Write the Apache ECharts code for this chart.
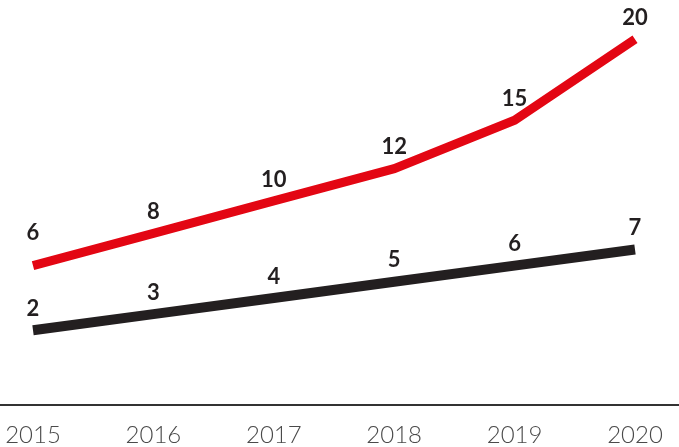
<!DOCTYPE html>
<html>
<head>
<meta charset="utf-8">
<script src="https://cdn.jsdelivr.net/npm/echarts@6/dist/echarts.min.js"></script>
<style>
  html, body { margin: 0; padding: 0; background: #fff; }
  #chart { width: 679px; height: 447px; }
</style>
</head>
<body>
<div id="chart"></div>
<script>
// Years along the bottom axis
const years = ['2015', '2016', '2017', '2018', '2019', '2020'];
// Upper (red) series
const redValues = [6, 8, 10, 12, 15, 20];
// Lower (dark) series
const darkValues = [2, 3, 4, 5, 6, 7];

const chart = echarts.init(document.getElementById('chart'));

const valueLabel = {
  show: true,
  position: 'top',
  distance: 10,
  fontFamily: 'Lato, "Open Sans", sans-serif',
  fontWeight: 'bold',
  fontSize: 22,
  color: '#231f20'
};

// the first red label sits a little higher than the rest
const redData = redValues.map((v, i) =>
  i === 0 ? { value: v, label: { distance: 21 } } : v
);

chart.setOption({
  animation: false,
  backgroundColor: '#ffffff',
  grid: [
    { left: 33, right: 44, top: 7, bottom: 42 },
    // full-width band that carries the baseline rule
    { left: 0, right: 0, top: 7, bottom: 42 }
  ],
  xAxis: [
    {
      type: 'category',
      data: years,
      boundaryGap: false,
      gridIndex: 0,
      axisLine: { show: false },
      axisTick: { show: false },
      axisLabel: {
        margin: 20,
        fontFamily: 'Lato, "Open Sans", sans-serif',
        fontWeight: 300,
        fontSize: 24,
        color: '#4a4a4a'
      },
      splitLine: { show: false }
    },
    {
      type: 'value',
      gridIndex: 1,
      axisLine: { show: true, lineStyle: { color: '#333333', width: 2 } },
      axisTick: { show: false },
      axisLabel: { show: false },
      splitLine: { show: false }
    }
  ],
  yAxis: [
    { type: 'value', gridIndex: 0, min: -2.5, max: 22, show: false },
    { type: 'value', gridIndex: 1, show: false }
  ],
  series: [
    {
      name: 'red',
      type: 'line',
      data: redData,
      symbol: 'circle',
      symbolSize: 1,
      itemStyle: { color: 'rgba(0,0,0,0)', borderWidth: 0 },
      lineStyle: { color: '#e30613', width: 9, cap: 'butt', join: 'miter' },
      label: valueLabel,
      z: 3
    },
    {
      name: 'dark',
      type: 'line',
      data: darkValues,
      symbol: 'circle',
      symbolSize: 1,
      itemStyle: { color: 'rgba(0,0,0,0)', borderWidth: 0 },
      lineStyle: { color: '#231f20', width: 10, cap: 'butt', join: 'miter' },
      label: valueLabel,
      z: 2
    }
  ]
});
</script>
</body>
</html>
